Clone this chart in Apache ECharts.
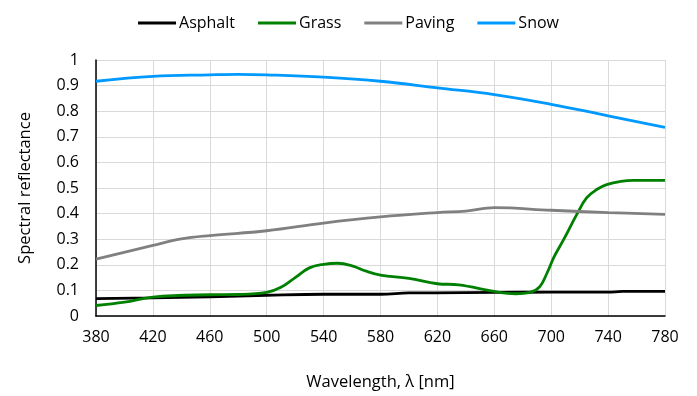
<!DOCTYPE html>
<html><head><meta charset="utf-8">
<script src="https://cdn.jsdelivr.net/npm/echarts@6/dist/echarts.min.js"></script>
<style>html,body{margin:0;padding:0;background:#fff}#c{width:697px;height:396px}</style>
</head><body><div id="c"></div>
<script>
const asphaltWl = [380, 420, 460, 500, 540, 580, 600, 660, 700, 740, 750, 780];
const asphaltVal = [0.068, 0.071, 0.075, 0.081, 0.085, 0.085, 0.09, 0.092, 0.093, 0.093, 0.096, 0.096];

const grassWl = [380, 400, 420, 460, 480, 500, 510, 520, 530, 540, 550, 560, 570, 580, 600, 620, 635, 660, 675, 685, 692, 697, 702, 709, 718, 725, 732, 739, 749, 758, 780];
const grassVal = [0.041, 0.054, 0.074, 0.083, 0.084, 0.092, 0.112, 0.15, 0.188, 0.202, 0.206, 0.196, 0.175, 0.16, 0.147, 0.126, 0.122, 0.096, 0.087, 0.092, 0.115, 0.167, 0.231, 0.301, 0.397, 0.462, 0.494, 0.513, 0.526, 0.53, 0.53];

const pavingWl = [380, 420, 440, 460, 500, 540, 580, 620, 640, 660, 700, 740, 780];
const pavingVal = [0.222, 0.276, 0.301, 0.314, 0.333, 0.363, 0.387, 0.404, 0.41, 0.423, 0.413, 0.404, 0.397];

const snowWl = [380, 420, 460, 480, 500, 540, 580, 620, 660, 700, 740, 780];
const snowVal = [0.917, 0.936, 0.942, 0.944, 0.942, 0.933, 0.917, 0.891, 0.865, 0.827, 0.782, 0.737];

const xTicks = [380, 420, 460, 500, 540, 580, 620, 660, 700, 740, 780];

const font = '"Open Sans", "Noto Sans", sans-serif';
function pairs(w, v) { return w.map((x, i) => [x, v[i]]); }
function mk(name, w, v, color) {
  return { name, type: 'line', data: pairs(w, v), smooth: 0.4, showSymbol: false, symbol: 'none',
    lineStyle: { color, width: 2.8 }, itemStyle: { color } };
}
const chart = echarts.init(document.getElementById('c'));
chart.setOption({
  animation: false,
  textStyle: { fontFamily: font },
  legend: {
    top: 10, left: 'center', itemWidth: 38, itemHeight: 3, itemGap: 23, icon: 'rect',
    textStyle: { fontFamily: font, fontSize: 16, color: '#000', padding: [0, 0, 0, -2] },
    data: ['Asphalt', 'Grass', 'Paving', 'Snow']
  },
  grid: { left: 96, right: 32, top: 60, bottom: 76 },
  xAxis: {
    type: 'value', min: 380, max: 780, interval: 40,
    name: 'Wavelength, λ [nm]', nameLocation: 'middle', nameGap: 58,
    nameTextStyle: { fontFamily: font, fontSize: 16.5, color: '#000' },
    axisLine: { show: true, lineStyle: { color: '#000', width: 1.5 } },
    axisTick: { show: false },
    axisLabel: { fontFamily: font, fontSize: 16, color: '#000', margin: 13,
      formatter: v => xTicks.includes(v) ? String(v) : '' },
    splitLine: { show: true, lineStyle: { color: '#d9d9d9', width: 1 } }
  },
  yAxis: {
    type: 'value', min: 0, max: 1, interval: 0.1,
    name: 'Spectral reflectance', nameLocation: 'middle', nameGap: 62, nameRotate: 90,
    nameTextStyle: { fontFamily: font, fontSize: 16.5, color: '#000' },
    axisLine: { show: true, lineStyle: { color: '#000', width: 1.5 } },
    axisTick: { show: false },
    axisLabel: { fontFamily: font, fontSize: 16, color: '#000', margin: 17,
      formatter: v => String(Math.round(v * 10) / 10) },
    splitLine: { show: true, lineStyle: { color: '#d9d9d9', width: 1 } }
  },
  series: [
    mk('Asphalt', asphaltWl, asphaltVal, '#000000'),
    mk('Grass', grassWl, grassVal, '#008000'),
    mk('Paving', pavingWl, pavingVal, '#808080'),
    mk('Snow', snowWl, snowVal, '#0099ff')
  ]
});
</script></body></html>
